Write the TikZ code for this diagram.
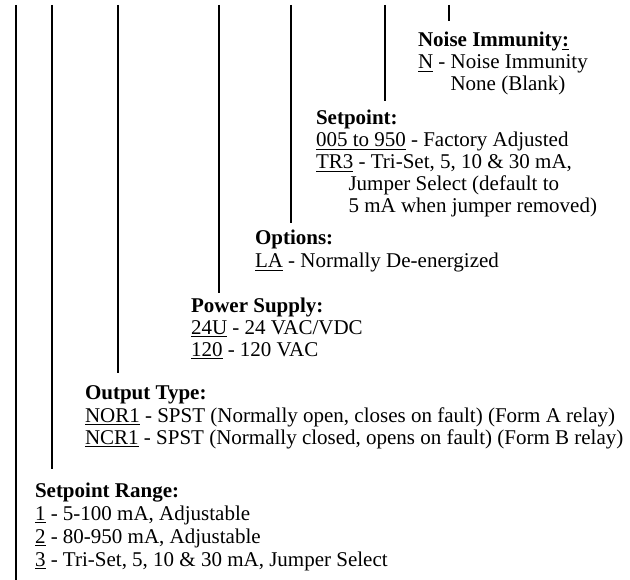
\documentclass[tikz,border=0pt]{standalone}
\usepackage{fontspec}
\setmainfont{Liberation Serif}
\newcommand\myindent{\hspace*{1.55em}}
\begin{document}
\begin{tikzpicture}[x=0.75pt,y=-0.75pt]
\tikzset{
  lead/.style={line width=1.5pt, line cap=butt},
  txt/.style={anchor=base west, inner sep=0pt, outer sep=0pt, font=\fontsize{15.75pt}{16.5pt}\selectfont},
  hd/.style={txt, font=\fontsize{15.75pt}{16.5pt}\selectfont\bfseries},
}
\useasboundingbox (0,0) rectangle (630,580);
% Noise Immunity
\node[hd]  (ni)  at (418,47) {Noise Immunity\underline{:}};
\node[txt] (ni1) at (418,69) {\underline{N} - Noise Immunity};
\node[txt] (ni2) at (418,91) {\myindent None (Blank)};
% Setpoint
\node[hd]  (sp)  at (316,125) {Setpoint:};
\node[txt] (sp1) at (316,147) {\underline{005 to 950} - Factory Adjusted};
\node[txt] (sp2) at (316,169) {\underline{TR3} - Tri-Set, 5, 10 \& 30 mA,};
\node[txt] (sp3) at (316,191) {\myindent Jumper Select (default to};
\node[txt] (sp4) at (316,213) {\myindent 5 mA when jumper removed)};
% Options
\node[hd]  (op)  at (255,245) {Options:};
\node[txt] (op1) at (255,268) {\underline{LA} - Normally De-energized};
% Power Supply
\node[hd]  (ps)  at (191,312) {Power Supply:};
\node[txt] (ps1) at (191,334) {\underline{24U} - 24 VAC/VDC};
\node[txt] (ps2) at (191,356) {\underline{120} - 120 VAC};
% Output Type
\node[hd]  (ot)  at (85,399) {Output Type:};
\node[txt] (ot1) at (85,422) {\underline{NOR1} - SPST (Normally open, closes on fault) (Form A relay)};
\node[txt] (ot2) at (85,444) {\underline{NCR1} - SPST (Normally closed, opens on fault) (Form B relay)};
% Setpoint Range
\node[hd]  (sr)  at (35,497) {Setpoint Range:};
\node[txt] (sr1) at (35,520) {\underline{1} - 5-100 mA, Adjustable};
\node[txt] (sr2) at (35,543) {\underline{2} - 80-950 mA, Adjustable};
\node[txt] (sr3) at (35,566) {\underline{3} - Tri-Set, 5, 10 \& 30 mA, Jumper Select};
% top ends of the leads
\coordinate (t1) at (16,5);
\coordinate (t2) at (52,5);
\coordinate (t3) at (118,5);
\coordinate (t4) at (219,5);
\coordinate (t5) at (291,5);
\coordinate (t6) at (385,5);
\coordinate (t7) at (449,5);
% lower ends of the leads, just above their headings
\coordinate (b1) at (16,580);
\coordinate (b2) at (52,469);
\coordinate (b3) at (118,373);
\coordinate (b4) at (219,293);
\coordinate (b5) at (291,223);
\coordinate (b6) at (385,101);
\coordinate (b7) at (449,21);
% leads
\foreach \i in {1,...,7} \draw[lead] (t\i) -- (b\i);
\end{tikzpicture}
\end{document}
